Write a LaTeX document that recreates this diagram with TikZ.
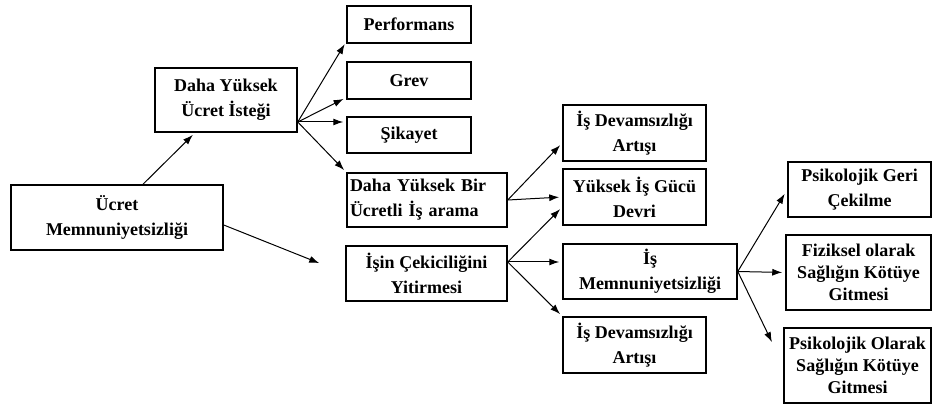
\documentclass[tikz,border=0pt]{standalone}
\usepackage{fontspec}
\setmainfont{Liberation Serif}
\usepackage{tikz}
\usetikzlibrary{arrows.meta}

\begin{document}
\begin{tikzpicture}[x=1pt, y=-1pt,
    box/.style={draw, line width=1.5pt, align=center, inner sep=0pt,
      font=\bfseries\fontsize{18}{25}\selectfont},
    arr/.style={-{Latex[length=10pt,width=7pt]}, line width=1pt, shorten >=3pt}]
  \useasboundingbox (0,0) rectangle (932,406);

  \node[box, minimum width=212pt, minimum height=65pt] (ucret) at (117,217.5) {Ücret\\Memnuniyetsizliği};
  \node[box, minimum width=142pt, minimum height=64pt] (istek) at (226,100) {Daha Yüksek\\Ücret İsteği};

  \node[box, minimum width=124pt, minimum height=37pt] (perf) at (409,24.5) {Performans};
  \node[box, minimum width=124pt, minimum height=37pt] (grev) at (409,80.5) {Grev};
  \node[box, minimum width=124pt, minimum height=36pt] (sikayet) at (409,135) {Şikayet};
  \node[box, minimum width=160pt, minimum height=54pt, align=left,
    text width=154pt] (arama) at (427,200) {Daha Yüksek Bir\\Ücretli İş arama};
  \node[box, minimum width=161pt, minimum height=55pt] (isin) at (426.5,273.5) {İşin Çekiciliğini\\Yitirmesi};

  \node[box, minimum width=143pt, minimum height=56pt] (devam1) at (634.5,133) {İş Devamsızlığı\\Artışı};
  \node[box, minimum width=143pt, minimum height=56pt] (devir) at (634.5,197) {Yüksek İş Gücü\\Devri};
  \node[box, minimum width=174pt, minimum height=55pt] (memnun) at (650,271.5) {İş\\Memnuniyetsizliği};
  \node[box, minimum width=143pt, minimum height=56pt] (devam2) at (634.5,345) {İş Devamsızlığı\\Artışı};

  \node[box, minimum width=143pt, minimum height=55pt] (geri) at (859.5,189.5) {Psikolojik Geri\\Çekilme};
  \node[box, minimum width=145pt, minimum height=75pt,
    font=\bfseries\fontsize{18}{22}\selectfont] (fizik) at (858.5,272.5) {Fiziksel olarak\\Sağlığın Kötüye\\Gitmesi};
  \node[box, minimum width=147pt, minimum height=75pt,
    font=\bfseries\fontsize{18}{22}\selectfont] (olarak) at (857.5,365.5) {Psikolojik Olarak\\Sağlığın Kötüye\\Gitmesi};

  % first level
  \draw[arr] ([xshift=26pt]ucret.north) -- ([xshift=-31pt]istek.south);
  \draw[arr, shorten >=28pt] ([yshift=-7.5pt]ucret.east) -- (isin.west);

  % higher wage demand
  \draw[arr] ([yshift=-22pt]istek.east) -- ([yshift=-17pt]perf.west);
  \draw[arr] ([yshift=-22pt]istek.east) -- ([yshift=-17pt]grev.west);
  \draw[arr] ([yshift=-22pt]istek.east) -- ([yshift=13pt]sikayet.west);
  \draw[arr] ([yshift=-22pt]istek.east) -- (arama.north west);

  % job search and loss of attraction
  \draw[arr] (arama.east) -- ([yshift=-10pt]devam1.west);
  \draw[arr] (arama.east) -- (devir.west);
  \draw[arr] ([yshift=11.5pt]isin.east) -- ([yshift=-10pt]devir.west);
  \draw[arr] ([yshift=11.5pt]isin.east) -- ([yshift=9.5pt]memnun.west);
  \draw[arr] ([yshift=11.5pt]isin.east) -- (devam2.north west);

  % job dissatisfaction
  \draw[arr, shorten >=5pt] (memnun.east) -- (geri.west);
  \draw[arr] (memnun.east) -- (fizik.west);
  \draw[arr, shorten >=26pt] (memnun.east) -- (olarak.west);
\end{tikzpicture}
\end{document}
